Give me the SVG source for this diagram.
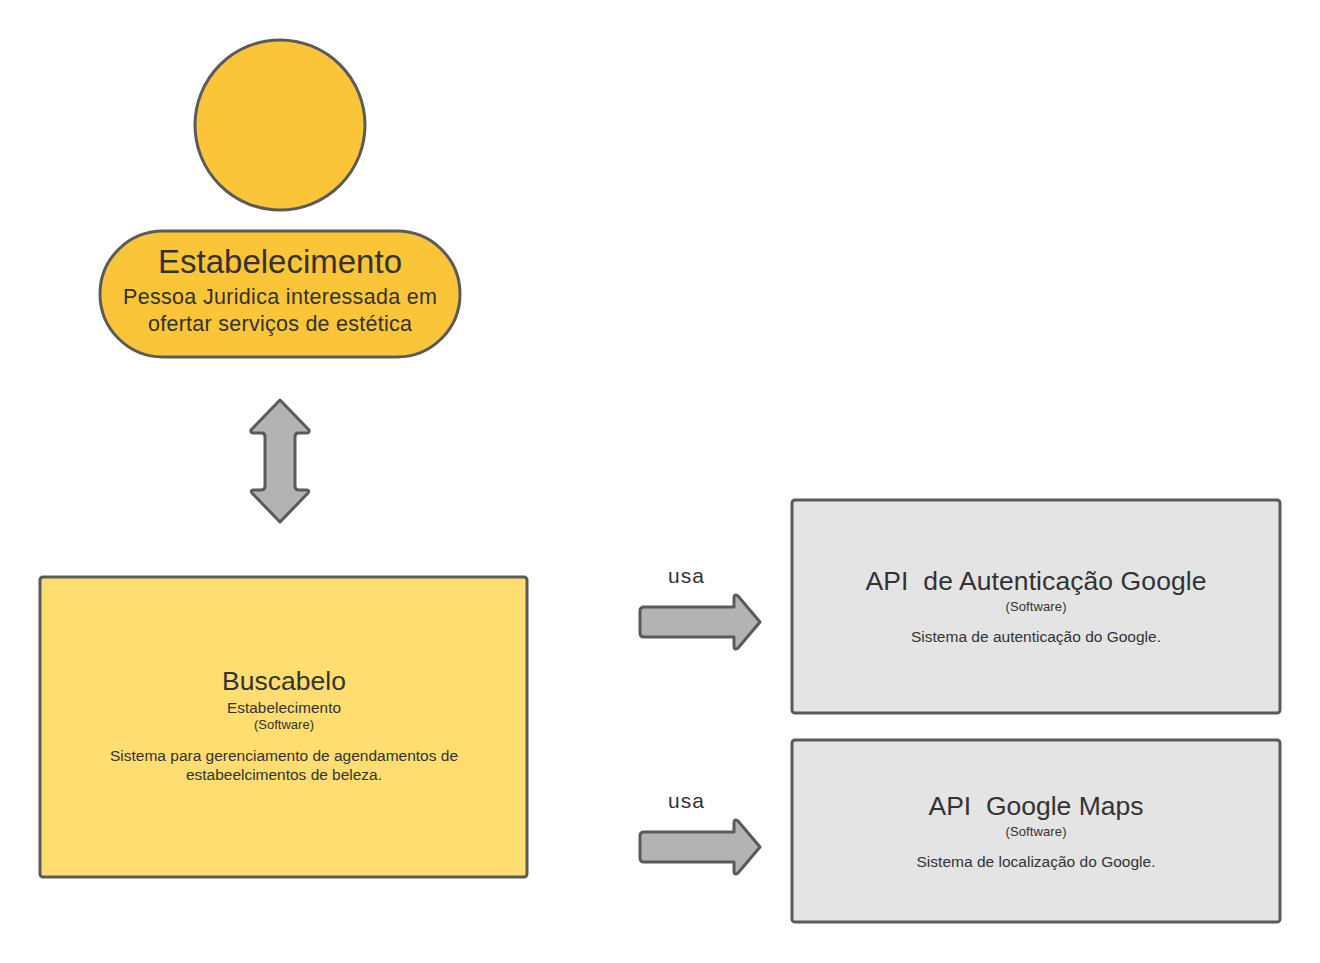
<svg xmlns="http://www.w3.org/2000/svg" width="1320" height="963" viewBox="0 0 1320 963">
<style>
text{font-family:"Liberation Sans",Arial,sans-serif;fill:#333333;text-anchor:middle}
.shape{stroke:#5a5a5a;stroke-width:3;stroke-linejoin:round}
.arrow{fill:#b3b3b3;stroke:#5a5a5a;stroke-width:3;stroke-linejoin:round}
.t1{font-size:33px}.t2{font-size:21.5px}.t3{font-size:26.5px}.t4{font-size:15.3px}.t5{font-size:13px}.t6{font-size:15.5px}.usa{font-size:21px}
</style>
<rect width="1320" height="963" fill="#ffffff"/>
<g id="person-head"><circle class="shape" cx="280" cy="125" r="85" fill="#fbc53a"/></g>
<g id="estabelecimento">
<rect class="shape" x="100" y="231" width="360" height="126" rx="63" fill="#fbc53a"/>
<text class="t1" x="280" y="273" textLength="244">Estabelecimento</text>
<text class="t2" x="280" y="304" textLength="314">Pessoa Juridica interessada em</text>
<text class="t2" x="280" y="331" textLength="264">ofertar serviços de estética</text>
</g>
<g id="buscabelo">
<rect class="shape" x="40" y="577" width="487" height="300" rx="3" fill="#ffdd71"/>
<text class="t3" x="284" y="690" textLength="124">Buscabelo</text>
<text class="t4" x="284" y="713" textLength="114">Estabelecimento</text>
<text class="t5" x="284" y="729" textLength="60">(Software)</text>
<text class="t6" x="284" y="761" textLength="348">Sistema para gerenciamento de agendamentos de</text>
<text class="t6" x="284" y="780" textLength="196">estabeelcimentos de beleza.</text>
</g>
<g id="api-auth">
<rect class="shape" x="792" y="500" width="488" height="213" rx="3" fill="#e4e4e4"/>
<text class="t3" x="1036" y="590" textLength="341" xml:space="preserve">API  de Autenticação Google</text>
<text class="t5" x="1036" y="611" textLength="61">(Software)</text>
<text class="t6" x="1036" y="642" textLength="250">Sistema de autenticação do Google.</text>
</g>
<g id="api-maps">
<rect class="shape" x="792" y="740" width="488" height="182" rx="3" fill="#e4e4e4"/>
<text class="t3" x="1036" y="815" textLength="215" xml:space="preserve">API  Google Maps</text>
<text class="t5" x="1036" y="836" textLength="61">(Software)</text>
<text class="t6" x="1036" y="867" textLength="239">Sistema de localização do Google.</text>
</g>
<g id="connectors">
<path class="arrow" d="M280 400 L309 430 Q310 433 306 433 L298 433 Q295 433 295 437 L295 486 Q295 490 299 490 L306 490 Q310 490 308 493 L280 522 L252 493 Q250 490 254 490 L261 490 Q265 490 265 486 L265 437 Q265 433 262 433 L254 433 Q250 433 251 430 Z"/>
<path class="arrow" d="M644 607 L734 607 L734 598 Q734 593 738 596 L760 622 L738 648 Q734 651 734 646 L734 637 L644 637 Q640 637 640 633 L640 611 Q640 607 644 607 Z"/>
<text class="usa" x="686" y="583" textLength="36">usa</text>
<path class="arrow" d="M644 832 L734 832 L734 823 Q734 818 738 821 L760 847 L738 873 Q734 876 734 871 L734 862 L644 862 Q640 862 640 858 L640 836 Q640 832 644 832 Z"/>
<text class="usa" x="686" y="808" textLength="36">usa</text>
</g>
</svg>
